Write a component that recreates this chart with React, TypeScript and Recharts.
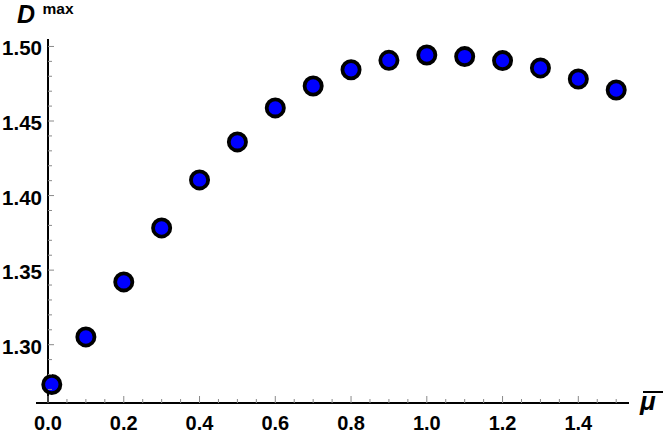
import { ScatterChart, Scatter, XAxis, YAxis, ReferenceLine } from "recharts";

const muValues = [0.01, 0.1, 0.2, 0.3, 0.4, 0.5, 0.6, 0.7, 0.8, 0.9, 1.0, 1.1, 1.2, 1.3, 1.4, 1.5];
const dMaxValues = [
  1.2733, 1.3052, 1.3421, 1.3783, 1.4105, 1.436, 1.4588, 1.4735, 1.4844, 1.4907, 1.4943, 1.4932,
  1.4905, 1.4856, 1.4782, 1.4708
];

const xTicks = [
  0, 0.05, 0.1, 0.15, 0.2, 0.25, 0.3, 0.35, 0.4, 0.45, 0.5, 0.55, 0.6, 0.65, 0.7, 0.75, 0.8, 0.85,
  0.9, 0.95, 1.0, 1.05, 1.1, 1.15, 1.2, 1.25, 1.3, 1.35, 1.4, 1.45, 1.5
];
const yTicks = [
  1.27, 1.28, 1.29, 1.3, 1.31, 1.32, 1.33, 1.34, 1.35, 1.36, 1.37, 1.38, 1.39, 1.4, 1.41, 1.42,
  1.43, 1.44, 1.45, 1.46, 1.47, 1.48, 1.49, 1.5
];

const data = muValues.map((mu, i) => ({ mu, d: dMaxValues[i] }));

const W = 664;
const H = 439;
const X_MIN = -0.0317;
const X_MAX = 1.5338;
const Y_MIN = 1.2609;
const Y_MAX = 1.505;
const LEFT = 36;
const RIGHT = 35;
const TOP = 39;
const BOTTOM = 36;

const FONT = "'Liberation Sans', Arial, sans-serif";
const TICK_GREY = "#8a8a8a";

// distance from the plot's left edge to x = 0, where the y axis sits
const zeroOffset = ((0 - X_MIN) / (X_MAX - X_MIN)) * (W - LEFT - RIGHT);

function XTick(props: any) {
  const { x, y, payload } = props;
  const v = payload.value;
  const major = Math.round(v * 100) % 20 === 0;
  return (
    <g>
      <line x1={x} x2={x} y1={y} y2={y - (major ? 7 : 4)} stroke={TICK_GREY} strokeWidth={1} />
      {major && (
        <text x={x} y={y + 27} textAnchor="middle" fontFamily={FONT} fontWeight="bold" fontSize={20} fill="#000">
          {v.toFixed(1)}
        </text>
      )}
    </g>
  );
}

function YTick(props: any) {
  const { x, y, payload } = props;
  const v = payload.value;
  const major = Math.round(v * 100) % 5 === 0;
  const ax = x + zeroOffset;
  return (
    <g>
      <line x1={ax} x2={ax + (major ? 6 : 4)} y1={y} y2={y} stroke={TICK_GREY} strokeWidth={1} />
      {major && (
        <text x={ax - 6} y={y + 9} textAnchor="end" fontFamily={FONT} fontWeight="bold" fontSize={20.5} fill="#000">
          {v.toFixed(2)}
        </text>
      )}
    </g>
  );
}

const Dot = (props: any) => (
  <circle cx={props.cx} cy={props.cy} r={8.6} fill="#0000ff" stroke="#000" strokeWidth={3.8} />
);

export default function App() {
  return (
    <div style={{ position: "absolute", left: 0, top: 0, width: W, height: H, background: "#fff" }}>
      <ScatterChart width={W} height={H} margin={{ top: TOP, right: RIGHT, left: 0, bottom: 0 }}>
        <XAxis
          type="number"
          dataKey="mu"
          domain={[X_MIN, X_MAX]}
          allowDataOverflow
          ticks={xTicks}
          interval={0}
          height={BOTTOM}
          tickSize={0}
          tickMargin={0}
          tickLine={false}
          axisLine={{ stroke: "#000", strokeWidth: 2 }}
          tick={<XTick />}
        />
        <YAxis
          type="number"
          dataKey="d"
          domain={[Y_MIN, Y_MAX]}
          allowDataOverflow
          ticks={yTicks}
          interval={0}
          width={LEFT}
          tickSize={0}
          tickMargin={0}
          tickLine={false}
          axisLine={false}
          tick={<YTick />}
        />
        <Scatter data={data} shape={Dot} isAnimationActive={false} />
        <ReferenceLine x={0} stroke="#000" strokeWidth={2} />
      </ScatterChart>
      <svg width={W} height={H} style={{ position: "absolute", left: 0, top: 0, pointerEvents: "none" }}>
        <text x={17} y={22.7} fontFamily={FONT} fontWeight="bold" fontStyle="italic" fontSize={25} fill="#000">
          D
        </text>
        <text x={42.5} y={14} fontFamily={FONT} fontWeight="bold" fontSize={15.5} fill="#000">
          max
        </text>
        <line x1={643} x2={663} y1={392} y2={392} stroke="#000" strokeWidth={2} />
        <text x={640} y={409.5} fontFamily={FONT} fontWeight="bold" fontStyle="italic" fontSize={26} fill="#000">
          μ
        </text>
      </svg>
    </div>
  );
}
